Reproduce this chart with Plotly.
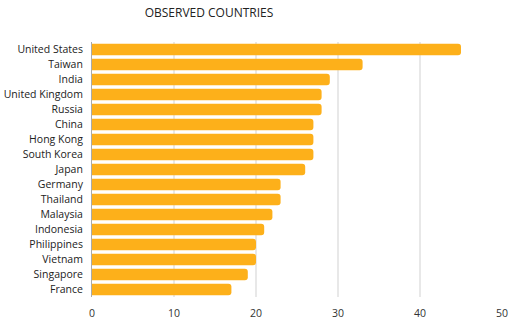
import plotly.graph_objects as go

# Observation counts per country (top to bottom)
countries = ["United States", "Taiwan", "India", "United Kingdom", "Russia", "China",
             "Hong Kong", "South Korea", "Japan", "Germany", "Thailand", "Malaysia",
             "Indonesia", "Philippines", "Vietnam", "Singapore", "France"]
counts = [45, 33, 29, 28, 28, 27, 27, 27, 26, 23, 23, 22, 21, 20, 20, 19, 17]
x_ticks = [0, 10, 20, 30, 40, 50]

W, H = 516, 324
ml, mr, mt, mb = 92, 14, 41.5, 26.5

fig = go.Figure(go.Bar(
    x=counts,
    y=countries,
    orientation="h",
    marker=dict(color="#FDB01A", line=dict(width=0)),
    hoverinfo="x+y",
))

fig.update_layout(
    width=W, height=H,
    margin=dict(l=ml, r=mr, t=mt, b=mb, pad=0),
    paper_bgcolor="white",
    plot_bgcolor="white",
    bargap=0.22,
    barcornerradius=3,
    showlegend=False,
    font=dict(family="Open Sans, Noto Sans, sans-serif", size=10.5, color="#333333"),
    title=dict(
        text="OBSERVED COUNTRIES",
        xref="container", x=209 / W, xanchor="center",
        yref="container", y=1 - 13 / H, yanchor="middle",
        font=dict(size=12, color="#222222"),
    ),
)

fig.update_xaxes(
    range=[0, 50],
    tickvals=x_ticks,
    showgrid=True, gridcolor="#E8E8E8", gridwidth=1.5,
    zeroline=False, showline=False,
    ticks="outside", ticklen=6, tickcolor="rgba(0,0,0,0)",
    tickfont=dict(size=10.5, color="#333333"),
    automargin=False,
    fixedrange=True,
)
fig.update_yaxes(
    categoryorder="array",
    categoryarray=list(reversed(countries)),
    showgrid=False,
    showline=True, linecolor="#AAAAAA", linewidth=1,
    ticks="outside", ticklen=6, tickcolor="rgba(0,0,0,0)",
    tickfont=dict(size=10.5, color="#222222"),
    automargin=False,
    fixedrange=True,
)

fig.write_html("out.html", config={"displayModeBar": False})
